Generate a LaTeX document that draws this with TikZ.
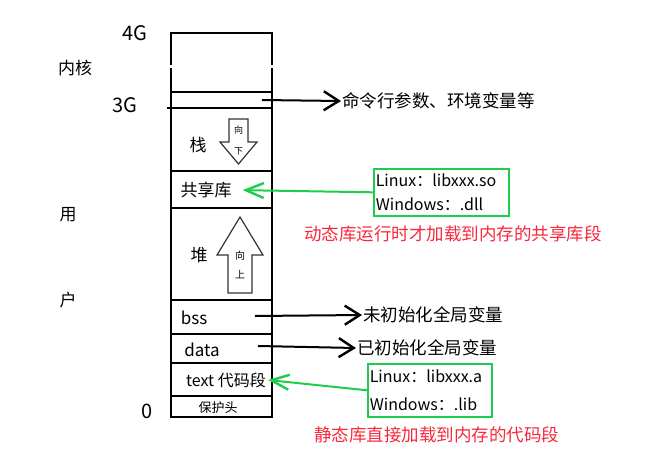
\documentclass[tikz,border=0pt]{standalone}
\usepackage{fontspec}
\setmainfont{Noto Sans CJK SC}
\usetikzlibrary{calc}
\usetikzlibrary{arrows.meta}
\definecolor{libgreen}{RGB}{30,205,75}
\definecolor{notered}{RGB}{248,40,60}

\begin{document}
\begin{tikzpicture}
% styles, pixel units with y downwards
[
    x=1pt,y=-1pt,
    wall/.style={line width=2pt},
    seglabel/.style={font=\fontsize{17}{20}\selectfont,inner sep=2pt},
    sidelabel/.style={font=\fontsize{17}{20}\selectfont,inner sep=1pt},
    memlabel/.style={font=\fontsize{20}{22}\selectfont,inner sep=1pt},
    blackarrow/.style={line width=2pt,-{Straight Barb[length=15pt,width=19pt,line width=2.4pt]}},
    greenarrow/.style={libgreen,line width=2pt,-{Straight Barb[length=18pt,width=15pt,line width=2.4pt]}},
    notetext/.style={font=\fontsize{17.5}{20}\selectfont,inner sep=1pt,anchor=west},
    libbox/.style={draw=libgreen,line width=1.6pt,anchor=north west,align=left,
      inner xsep=2pt,font=\fontsize{16}{24}\selectfont},
    growarrow/.style={draw=black!80,line width=1.2pt,fill=white}
]
\useasboundingbox (0,0) rectangle (670,464);

% column
\pgfmathsetmacro{\L}{171}
\pgfmathsetmacro{\R}{272}
\draw[wall] (\L,33) -- (\R,33);
\draw[wall] (\L,32) -- (\L,65);
\draw[wall] (\R,32) -- (\R,65);
\draw[wall] (\L,68) -- (\L,418);
\draw[wall] (\R,68) -- (\R,418);
\draw[wall] (\L,417) -- (\R,417);
\draw[wall] (\L,92) -- (\R,92);
\draw[wall] (167,108) -- (\R,108);
\foreach \y in {171,208,300,334,363,396}
  \draw[wall] (\L,\y) -- (\R,\y);

% addresses and sides
\node[memlabel] (top) at (135,33) {4G};
\node[memlabel] (mid) at (125,105) {3G};
\node[memlabel] (zero) at (147,411) {0};
\node[sidelabel] (kernel) at (75,68) {内核};
\node[sidelabel] (user1) at (68,215) {用};
\node[sidelabel] (user2) at (68,300) {户};

% segments
\node[seglabel] (stack) at (198,145) {栈};
\node[seglabel] (shared) at (206,190) {共享库};
\node[seglabel] (heap) at (199,255) {堆};
\node[seglabel] (bss) at (194,318) {bss};
\node[seglabel] (data) at (202,350) {data};
\node[seglabel,font=\fontsize{16}{20}\selectfont] (text) at (226,380) {text 代码段};
\node[seglabel,font=\fontsize{13}{16}\selectfont] (guard) at (218,408) {保护头};

% stack grows down
\draw[growarrow] (229,119) -- (248,119) -- (248,142) -- (257,142) -- (238.5,164)
  -- (220,142) -- (229,142) -- cycle;
\node[font=\fontsize{9}{10}\selectfont,inner sep=0pt] (sdown1) at (238.5,130) {向};
\node[font=\fontsize{9}{10}\selectfont,inner sep=0pt] (sdown2) at (238.5,151) {下};
% heap grows up
\draw[growarrow] (240,217) -- (263,255) -- (252,255) -- (252,293) -- (228,293)
  -- (228,255) -- (217,255) -- cycle;
\node[font=\fontsize{10}{11}\selectfont,inner sep=0pt] (hup1) at (240,256) {向};
\node[font=\fontsize{10}{11}\selectfont,inner sep=0pt] (hup2) at (240,275) {上};

% black notes
\coordinate (argsrc) at (262,100);
\node[notetext] (args) at (341,101) {命令行参数、环境变量等};
\draw[blackarrow] (argsrc) -- (args.west);
\coordinate (bsssrc) at (255,316);
\node[notetext] (bssnote) at (362,315) {未初始化全局变量};
\draw[blackarrow] (bsssrc) -- (bssnote.west);
\coordinate (datasrc) at (258,346);
\node[notetext] (datanote) at (356,348) {已初始化全局变量};
\draw[blackarrow] (datasrc) -- (datanote.west);

% libraries
\node[libbox,text width=131pt,minimum height=47pt] (sobox) at (373,168) {Linux：libxxx.so\\Windows：.dll};
\draw[greenarrow,shorten >=9pt] (sobox.west) -- (shared.east);
\node[notetext,notered] (dynnote) at (303,234) {动态库运行时才加载到内存的共享库段};

\node[libbox,text width=120pt,minimum height=53pt,font=\fontsize{16}{28}\selectfont] (abox) at (367,363) {Linux：libxxx.a\\Windows：.lib};
\draw[greenarrow] (abox.west) -- (text.east);
\node[notetext,notered] (statnote) at (313,435) {静态库直接加载到内存的代码段};
\end{tikzpicture}
\end{document}
